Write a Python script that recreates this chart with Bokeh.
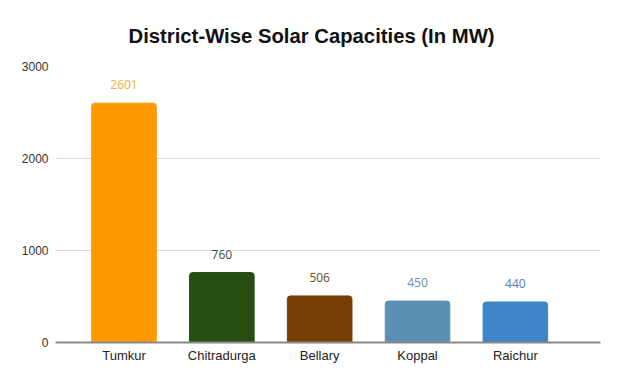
from bokeh.plotting import figure
from bokeh.models import ColumnDataSource, Range1d, FixedTicker, LabelSet
from bokeh.core.properties import value
from bokeh.embed import file_html
from bokeh.resources import INLINE

districts = ["Tumkur", "Chitradurga", "Bellary", "Koppal", "Raichur"]
capacity_mw = [2601, 760, 506, 450, 440]
bar_colors = ["#ff9900", "#274e13", "#783f04", "#5b91b2", "#3d85c6"]
label_colors = ["#f0b040", "#3d4a3a", "#6e4a2a", "#6b93ab", "#4a80c0"]
y_ticks = [0, 1000, 2000, 3000]

xs = [i + 0.5 for i in range(len(districts))]
src = ColumnDataSource(dict(x=xs, top=capacity_mw, color=bar_colors,
                            lcolor=label_colors,
                            label=[str(v) for v in capacity_mw]))

p = figure(width=604, height=368, output_backend="svg", toolbar_location=None,
           x_range=Range1d(-0.2, 5.37), y_range=Range1d(0, 3000),
           min_border_left=55, min_border_right=4, min_border_top=66,
           min_border_bottom=26)

p.title.text = "District-Wise Solar Capacities (In MW)"
p.title.text_font = "Liberation Sans"
p.title.text_font_size = "20.3px"
p.title.text_font_style = "bold"
p.title.text_color = "#111111"
p.title.align = "left"
p.title.offset = 73
p.title.standoff = 40

p.vbar(x="x", top="top", width=0.66, color="color", source=src,
       border_radius=[3, 3, 0, 0])

labels = LabelSet(x="x", y="top", text="label", source=src, text_color="lcolor",
                  text_align="center", text_baseline="bottom", y_offset=14,
                  text_font=value("Open Sans"), text_font_size="12px",
                  background_fill_color="white")
p.add_layout(labels)

p.xaxis.ticker = FixedTicker(ticks=xs)
p.xaxis.major_label_overrides = {x: d for x, d in zip(xs, districts)}
p.xaxis.major_tick_line_color = None
p.xaxis.major_tick_out = 0
p.xaxis.minor_tick_line_color = None
p.xaxis.minor_tick_out = 0
p.xaxis.axis_line_color = "#8a8a8a"
p.xaxis.axis_line_width = 2
p.xaxis.major_label_text_font = "Liberation Sans"
p.xaxis.major_label_text_font_size = "13px"
p.xaxis.major_label_text_color = "#222222"
p.xaxis.major_label_standoff = 5

p.yaxis.ticker = FixedTicker(ticks=y_ticks)
p.yaxis.major_tick_line_color = None
p.yaxis.major_tick_out = 0
p.yaxis.minor_tick_line_color = None
p.yaxis.minor_tick_out = 0
p.yaxis.axis_line_color = None
p.yaxis.major_label_text_font = "Liberation Sans"
p.yaxis.major_label_text_font_size = "12px"
p.yaxis.major_label_text_color = "#333333"
p.yaxis.major_label_standoff = 7

p.xgrid.grid_line_color = None
p.ygrid.grid_line_color = "#d9d9d9"
p.outline_line_color = None
p.background_fill_color = "white"
p.border_fill_color = "white"

open("out.html", "w").write(file_html(p, INLINE))
